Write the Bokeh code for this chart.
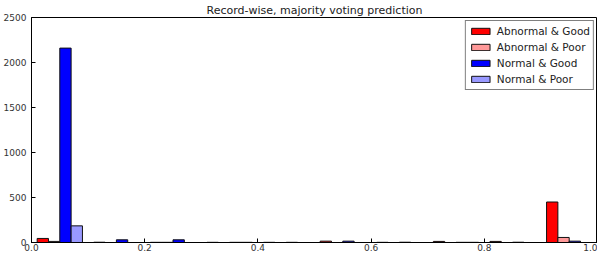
from bokeh.plotting import figure
from bokeh.models import ColumnDataSource, Range1d, Legend, LegendItem, FixedTicker
from bokeh.embed import file_html
from bokeh.resources import INLINE

# ---- data ----
bin_left = [0.0, 0.1, 0.2, 0.3, 0.4, 0.5, 0.6, 0.7, 0.8, 0.9]
bin_width = 0.1
series_names = ["Abnormal & Good", "Abnormal & Poor", "Normal & Good", "Normal & Poor"]
abnormal_good = [45, 3, 2, 2, 2, 15, 2, 12, 12, 450]
abnormal_poor = [12, 0, 2, 0, 0, 0, 0, 0, 0, 56]
normal_good = [2160, 30, 30, 2, 2, 15, 3, 2, 3, 15]
normal_poor = [185, 0, 0, 2, 0, 0, 0, 2, 0, 0]
series_values = [abnormal_good, abnormal_poor, normal_good, normal_poor]
colors = ["#ff0000", "#ff9999", "#0000ff", "#9999ff"]
x_ticks = [0.0, 0.2, 0.4, 0.6, 0.8, 1.0]
y_ticks = [0, 500, 1000, 1500, 2000, 2500]

FONT = "DejaVu Sans"

p = figure(width=597, height=253, output_backend="svg", toolbar_location=None,
           x_range=Range1d(0, 1), y_range=Range1d(0, 2500),
           title="Record-wise, majority voting prediction",
           min_border_left=27, min_border_right=0, min_border_top=9, min_border_bottom=0)

p.title.align = "center"
p.title.text_font = FONT
p.title.text_font_size = "11px"
p.title.text_font_style = "normal"
p.title.text_color = "#222222"
p.title.standoff = 2
p.title.offset = 0

p.grid.visible = False
p.outline_line_color = "black"
p.outline_line_width = 1
p.background_fill_color = "white"
p.border_fill_color = "white"

n = len(series_names)
bar_w = bin_width * 0.8 / n
renderers = []
for k, (name, vals, col) in enumerate(zip(series_names, series_values, colors)):
    xs = [b + bin_width * 0.1 + bar_w * (k + 0.5) for b in bin_left]
    src = ColumnDataSource(dict(x=xs, top=vals))
    r = p.vbar(x="x", top="top", bottom=0, width=bar_w, source=src,
               fill_color=col, line_color="#111111", line_width=1)
    renderers.append(r)

for ax in [p.xaxis[0], p.yaxis[0]]:
    ax.major_tick_in = 4
    ax.major_tick_out = 0
    ax.minor_tick_in = 0
    ax.minor_tick_out = 0
    ax.major_label_text_font = FONT
    ax.major_label_text_font_size = "9px"
    ax.major_label_text_color = "#333333"
    ax.axis_line_color = "black"
    ax.major_tick_line_color = "black"

p.xaxis[0].ticker = FixedTicker(ticks=x_ticks)
p.xaxis[0].major_label_standoff = 1
p.xaxis[0].major_label_overrides = {0.0: "0.0", 0.2: "0.2", 0.4: "0.4", 0.6: "0.6", 0.8: "0.8", 1.0: "1.0"}
p.yaxis[0].ticker = FixedTicker(ticks=y_ticks)
p.yaxis[0].major_label_standoff = 5

legend = Legend(items=[LegendItem(label=nm, renderers=[r]) for nm, r in zip(series_names, renderers)],
                location="top_right")
legend.label_text_font = FONT
legend.label_text_font_size = "10.5px"
legend.label_text_color = "#222222"
legend.border_line_color = "black"
legend.border_line_width = 1
legend.background_fill_alpha = 1
legend.glyph_width = 23
legend.glyph_height = 8
legend.spacing = 2
legend.padding = 3
legend.margin = 3
legend.label_standoff = 5
legend.label_height = 14
p.add_layout(legend)

open("out.html", "w").write(file_html(p, INLINE))
